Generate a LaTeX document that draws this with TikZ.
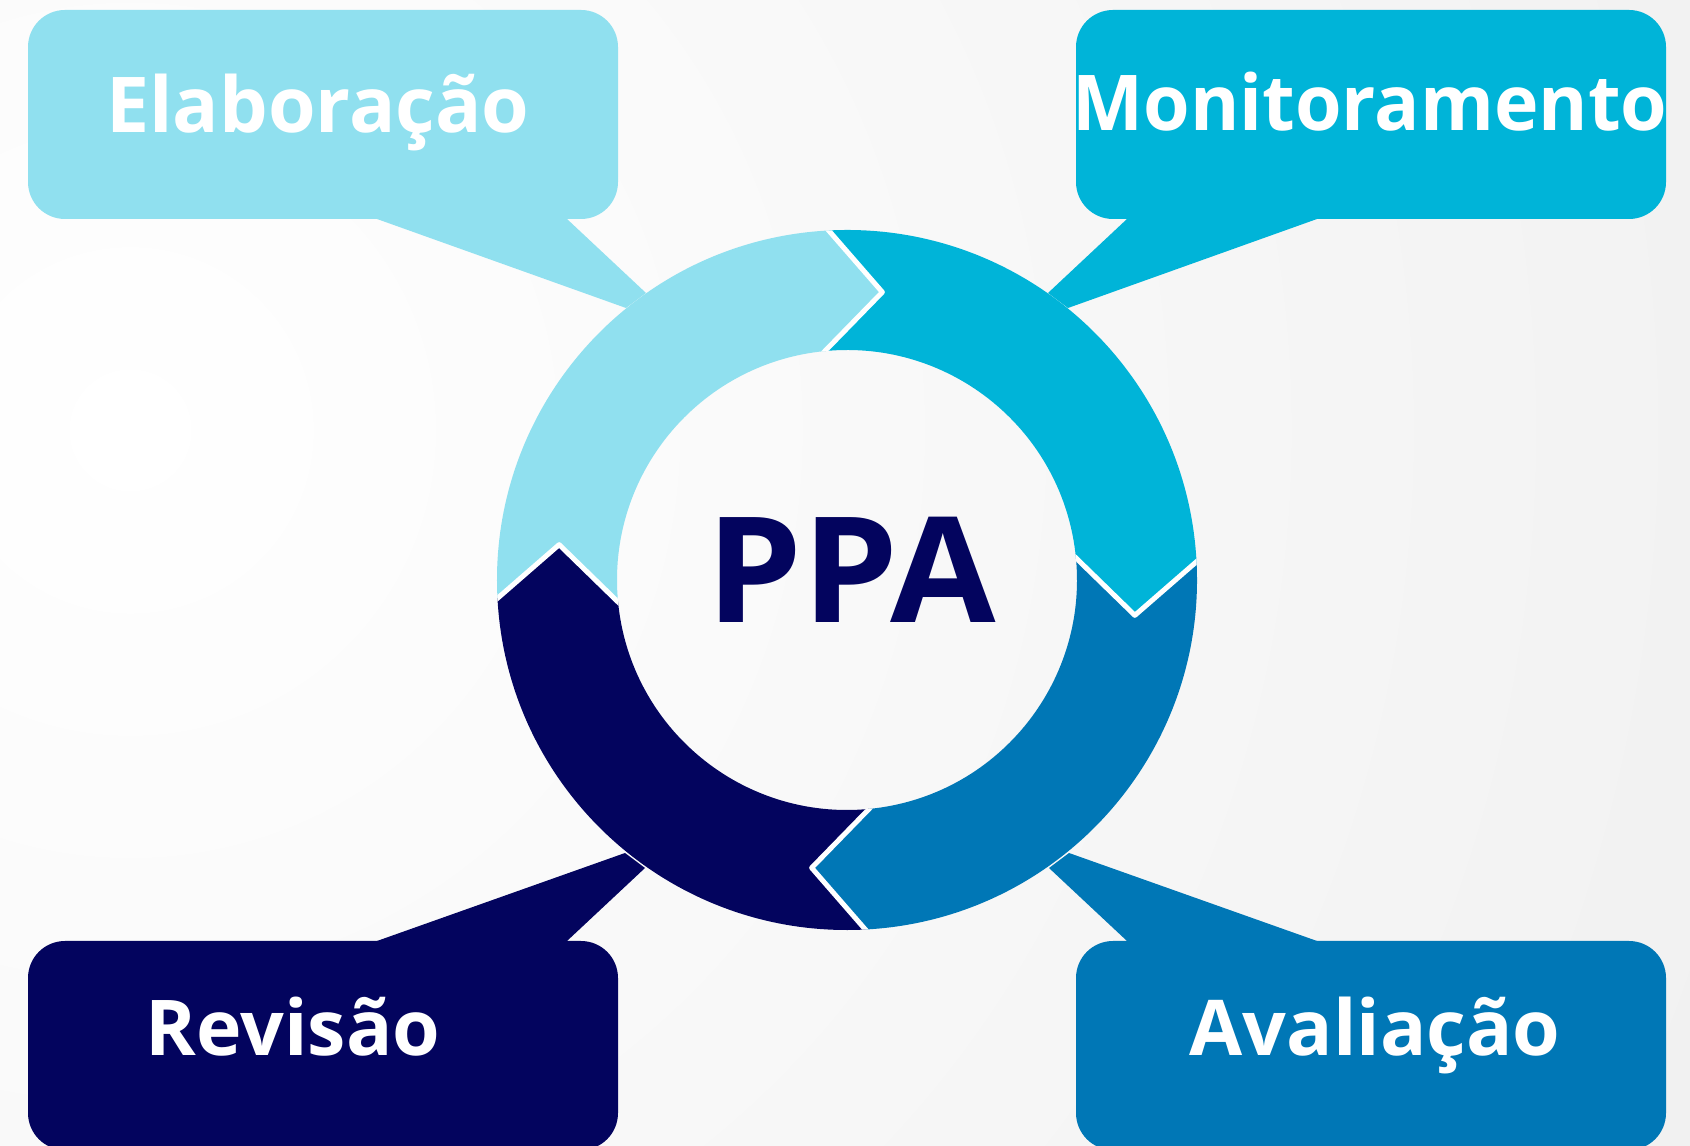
\documentclass[tikz,border=0pt]{standalone}
\usepackage{fontspec}
\setmainfont{Open Sans}
\usetikzlibrary{calc}
\definecolor{cA}{HTML}{90E0EF}
\definecolor{cB}{HTML}{00B4D8}
\definecolor{cC}{HTML}{0077B6}
\definecolor{cD}{HTML}{03045E}
\definecolor{bgg}{HTML}{E4E4E4}
\tikzset{
  callout/.style={rounded corners=37pt, minimum width=590pt, minimum height=209pt, inner sep=0pt, draw=none},
  lbl/.style={font=\fontsize{77}{77}\selectfont\bfseries, text=white, inner sep=0pt, anchor=base},
  sep/.style={white, line width=5pt, line join=round},
}
\begin{document}
\begin{tikzpicture}[x=1pt,y=1pt]
\useasboundingbox (0,0) rectangle (1690,1146);
\begin{scope}
  \clip (0,0) rectangle (1690,1146);
  \shade[inner color=white, outer color=bgg] (130,716) circle (3300);

  % callout boxes
  \node[callout, fill=cA] (boxA) at (323,1031.5) {};
  \node[callout, fill=cB] (boxB) at (1371,1031.5) {};
  \node[callout, fill=cC] (boxC) at (1371,100.5) {};
  \node[callout, fill=cD] (boxD) at (323,100.5) {};

  % pointers
  \fill[cA] (377,935) -- (377,927) -- (626,838) -- (646,853) -- (567,927) -- (567,935) -- cycle;
  \fill[cB] (1317,935) -- (1317,927) -- (1068,838) -- (1048,853) -- (1127,927) -- (1127,935) -- cycle;
  \fill[cC] (1317,197) -- (1317,205) -- (1069,293) -- (1049,278) -- (1127,205) -- (1127,197) -- cycle;
  \fill[cD] (377,197) -- (377,205) -- (625,293) -- (645,278) -- (567,205) -- (567,197) -- cycle;

  % ring
  \coordinate (C) at (847,566);
  \begin{scope}[shift={(C)}]
    \foreach \s/\c in {180/cA, 90/cB, 0/cC, -90/cD}{
      \pgfmathsetmacro\e{\s-90}
      \fill[\c] ({\s+3}:350) arc[start angle={\s+3}, end angle={\e+3}, radius=350]
        -- ({\e-7}:290) -- ({\e+5.5}:230)
        arc[start angle={\e+5.5}, end angle={\s+5.5}, radius=230]
        -- ({\s-7}:290) -- cycle;
    }
    \begin{scope}[even odd rule]
      \clip (0,0) circle (350) (0,0) circle (230);
      \foreach \t in {180,90,0,-90}{
        \draw[sep] ($({\t-7}:290)!1.6!({\t+3}:350)$) -- ({\t-7}:290) -- ($({\t-7}:290)!1.6!({\t+5.5}:230)$);
      }
    \end{scope}
  \end{scope}

  % labels
  \node[lbl] (tA) at (318,1013) {Elaboração};
  \node[lbl] (tB) at (1370,1015) {\scalebox{0.978}[1]{Monitoramento}};
  \node[lbl] (tC) at (1375,90) {Avaliação};
  \node[lbl] (tD) at (293,90) {Revisão};
  \node[font=\fontsize{147}{147}\selectfont\bfseries, text=cD, inner sep=0pt, anchor=base] (ppa) at (851,523) {\scalebox{1.04}[1]{PPA}};
\end{scope}
\end{tikzpicture}
\end{document}
